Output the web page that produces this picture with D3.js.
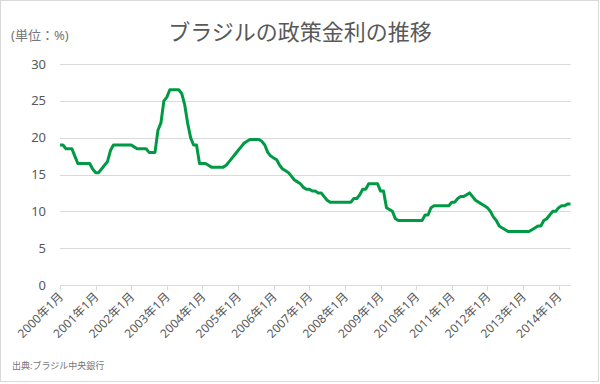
<!DOCTYPE html>
<html>
<head>
<meta charset="utf-8">
<script src="https://cdn.jsdelivr.net/npm/d3@7"></script>
<style>
    body { margin: 0; background: #fff; }
    #chart svg { display: block; }
</style>
</head>
<body>
<div id="chart"></div>
<script>
// Monthly policy rate (%), one array per year, starting in January
var startYear = 2000;
var rates2000 = [19, 19, 18.5, 18.5, 18.5, 17.5, 16.5, 16.5, 16.5, 16.5, 16.5, 15.75];
var rates2001 = [15.25, 15.25, 15.75, 16.25, 16.75, 18.25, 19, 19, 19, 19, 19, 19];
var rates2002 = [19, 18.75, 18.5, 18.5, 18.5, 18.5, 18, 18, 18, 21, 22, 25];
var rates2003 = [25.5, 26.5, 26.5, 26.5, 26.5, 26, 24.5, 22, 20, 19, 19, 16.5];
var rates2004 = [16.5, 16.5, 16.25, 16, 16, 16, 16, 16, 16.25, 16.75, 17.25, 17.75];
var rates2005 = [18.25, 18.75, 19.25, 19.5, 19.75, 19.75, 19.75, 19.75, 19.5, 19, 18, 17.5];
var rates2006 = [17.25, 17, 16.25, 15.75, 15.5, 15.25, 14.75, 14.25, 14, 13.75, 13.25, 13];
var rates2007 = [13, 12.75, 12.75, 12.5, 12.5, 12, 11.5, 11.25, 11.25, 11.25, 11.25, 11.25];
var rates2008 = [11.25, 11.25, 11.25, 11.75, 11.75, 12.25, 13, 13, 13.75, 13.75, 13.75, 13.75];
var rates2009 = [12.75, 12.75, 10.5, 10.25, 10, 9, 8.75, 8.75, 8.75, 8.75, 8.75, 8.75];
var rates2010 = [8.75, 8.75, 8.75, 9.5, 9.5, 10.5, 10.75, 10.75, 10.75, 10.75, 10.75, 10.75];
var rates2011 = [11.25, 11.25, 11.75, 12, 12, 12.25, 12.5, 12, 11.5, 11.25, 11, 10.75];
var rates2012 = [10.5, 10, 9.25, 8.75, 8, 7.75, 7.5, 7.25, 7.25, 7.25, 7.25, 7.25];
var rates2013 = [7.25, 7.25, 7.25, 7.5, 7.75, 8, 8, 8.75, 9, 9.5, 10, 10];
var rates2014 = [10.5, 10.75, 10.75, 11, 11];

var yTicks = [0, 5, 10, 15, 20, 25, 30];
var labelYears = [2000, 2001, 2002, 2003, 2004, 2005, 2006, 2007, 2008, 2009, 2010, 2011, 2012, 2013, 2014];

var titleText = "ブラジルの政策金利の推移";
var unitText = "(単位：%)";
var sourceText = "出典:ブラジル中央銀行";

var textColor = "#595959";
var lineColor = "#009a44";
var gridColor = "#d9d9d9";

// flatten the yearly arrays into one list of {label, value}
var rates = [].concat(rates2000, rates2001, rates2002, rates2003, rates2004, rates2005,
    rates2006, rates2007, rates2008, rates2009, rates2010, rates2011, rates2012,
    rates2013, rates2014);
var data = rates.map(function(v, i) {
    let year = startYear + Math.floor(i / 12);
    let month = (i % 12) + 1;
    return {label: year + "年" + month + "月", value: v};
});

var width = 600, height = 384;
var margin = {top: 64, left: 60, right: 29.5, bottom: 99};

var svg = d3.select("#chart").append("svg")
    .attr("width", width)
    .attr("height", height)
    .style("font-family", "'Noto Sans', 'Noto Sans CJK JP', sans-serif");

// outer frame
svg.append("rect")
    .attr("x", 0.5).attr("y", 0.5)
    .attr("width", width - 2).attr("height", height - 3)
    .attr("fill", "#fff")
    .attr("stroke", gridColor);

var x = d3.scalePoint()
    .domain(data.map(function(d) { return d.label; }))
    .range([margin.left, width - margin.right]);

var y = d3.scaleLinear()
    .domain([0, 30])
    .range([height - margin.bottom - 0, margin.top]);

// horizontal gridlines
svg.append("g")
    .selectAll("line")
    .data(yTicks)
    .enter()
    .append("line")
        .attr("x1", margin.left)
        .attr("x2", width - margin.right)
        .attr("y1", function(d) { return Math.round(y(d)) + 0.5; })
        .attr("y2", function(d) { return Math.round(y(d)) + 0.5; })
        .attr("stroke", gridColor)
        .attr("stroke-width", 1);

// y labels
svg.append("g")
    .selectAll("text")
    .data(yTicks)
    .enter()
    .append("text")
        .attr("x", 46)
        .attr("y", function(d) { return y(d); })
        .attr("dy", "0.35em")
        .attr("text-anchor", "end")
        .attr("font-size", "13px")
        .attr("fill", textColor)
        .text(function(d) { return d; });

// x tick marks and rotated labels, one per January
var tickLabels = labelYears.map(function(yr) { return yr + "年1月"; });
var axisY = Math.round(y(0)) + 0.5;

svg.append("g")
    .selectAll("line")
    .data(tickLabels)
    .enter()
    .append("line")
        .attr("x1", function(d) { return Math.round(x(d)) + 0.5; })
        .attr("x2", function(d) { return Math.round(x(d)) + 0.5; })
        .attr("y1", axisY)
        .attr("y2", axisY + 5)
        .attr("stroke", gridColor);

svg.append("g")
    .selectAll("text")
    .data(tickLabels)
    .enter()
    .append("text")
        .attr("transform", function(d) {
            return "translate(" + (x(d) + 1) + "," + (axisY + 9) + ") rotate(-45)";
        })
        .attr("dy", "0.35em")
        .attr("text-anchor", "end")
        .attr("font-size", "12px")
        .attr("fill", textColor)
        .text(function(d) { return d; });

// the rate line
var line = d3.line()
    .x(function(d) { return x(d.label); })
    .y(function(d) { return y(d.value); });

svg.append("path")
    .datum(data)
    .attr("d", line)
    .attr("fill", "none")
    .attr("stroke", lineColor)
    .attr("stroke-width", 3)
    .attr("stroke-linejoin", "round");

// titles
svg.append("text")
    .attr("x", 300)
    .attr("y", 40)
    .attr("text-anchor", "middle")
    .attr("font-family", "'Noto Sans CJK JP', sans-serif")
    .attr("font-size", "22px")
    .attr("fill", textColor)
    .text(titleText);

svg.append("text")
    .attr("x", 11)
    .attr("y", 40)
    .attr("font-size", "13px")
    .attr("fill", "#767676")
    .text(unitText);

svg.append("text")
    .attr("x", 12)
    .attr("y", 369)
    .attr("font-size", "9px")
    .attr("fill", "#767676")
    .text(sourceText);
</script>
</body>
</html>
